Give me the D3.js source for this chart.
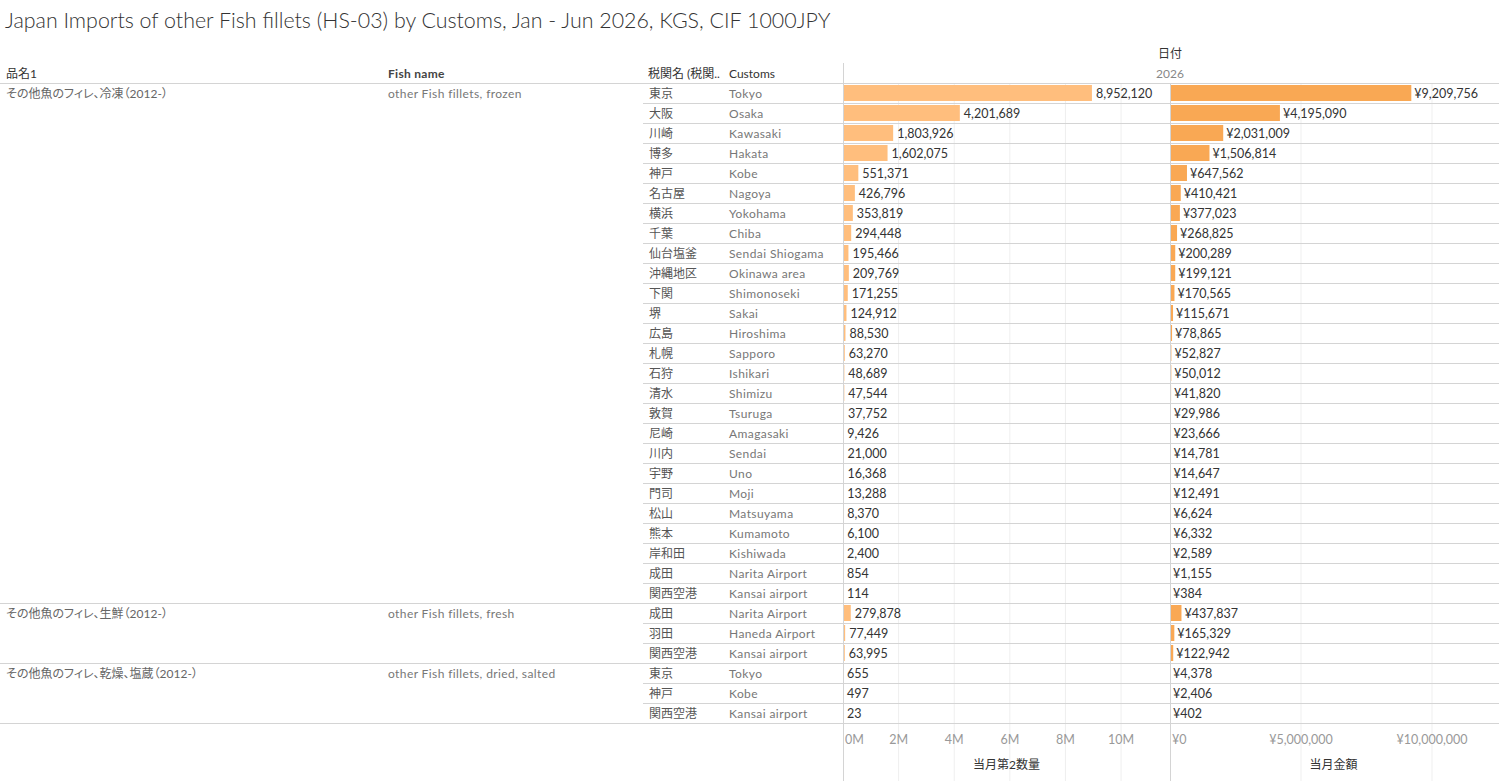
<!DOCTYPE html>
<html>
<head>
<meta charset="utf-8">
<script src="https://cdn.jsdelivr.net/npm/d3@7"></script>
<style>
  body { margin: 0; background: #fff; }
  svg { display: block; font-family: Lato, "Noto Sans CJK JP", sans-serif; }
  .palt { font-feature-settings: "palt"; }
</style>
</head>
<body>
<div id="chart"></div>
<script>
// Japan imports of other fish fillets by customs, Jan - Jun 2026
const groupJa = ["その他魚のフィレ、冷凍（2012-）", "その他魚のフィレ、生鮮（2012-）", "その他魚のフィレ、乾燥、塩蔵（2012-）"]
const groupEn = ["other Fish fillets, frozen", "other Fish fillets, fresh", "other Fish fillets, dried, salted"]
const groupSize = [26, 3, 3]

const customsJa = ["東京", "大阪", "川崎", "博多", "神戸", "名古屋", "横浜", "千葉", "仙台塩釜", "沖縄地区", "下関", "堺", "広島", "札幌", "石狩", "清水", "敦賀", "尼崎", "川内", "宇野", "門司", "松山", "熊本", "岸和田", "成田", "関西空港",
  "成田", "羽田", "関西空港",
  "東京", "神戸", "関西空港"]
const customsEn = ["Tokyo", "Osaka", "Kawasaki", "Hakata", "Kobe", "Nagoya", "Yokohama", "Chiba", "Sendai Shiogama", "Okinawa area", "Shimonoseki", "Sakai", "Hiroshima", "Sapporo", "Ishikari", "Shimizu", "Tsuruga", "Amagasaki", "Sendai", "Uno", "Moji", "Matsuyama", "Kumamoto", "Kishiwada", "Narita Airport", "Kansai airport",
  "Narita Airport", "Haneda Airport", "Kansai airport",
  "Tokyo", "Kobe", "Kansai airport"]
const quantity = [8952120, 4201689, 1803926, 1602075, 551371, 426796, 353819, 294448, 195466, 209769, 171255, 124912, 88530, 63270, 48689, 47544, 37752, 9426, 21000, 16368, 13288, 8370, 6100, 2400, 854, 114,
  279878, 77449, 63995,
  655, 497, 23]
const amount = [9209756, 4195090, 2031009, 1506814, 647562, 410421, 377023, 268825, 200289, 199121, 170565, 115671, 78865, 52827, 50012, 41820, 29986, 23666, 14781, 14647, 12491, 6624, 6332, 2589, 1155, 384,
  437837, 165329, 122942,
  4378, 2406, 402]

const qtyTicks = [0, 2e6, 4e6, 6e6, 8e6, 10e6]
const amtTicks = [0, 5e6, 10e6]

const W = 1499, H = 781
const svg = d3.select("#chart").append("svg").attr("width", W).attr("height", H)

const rowTop = 83, rowBottom = 723
const y = d3.scaleBand().domain(d3.range(customsJa.length)).range([rowTop, rowBottom]).paddingInner(0.2).paddingOuter(0.1)
const step = y.step()

const xQty = d3.scaleLinear().domain([0, 11.76e6]).range([843, 1170])
const xAmt = d3.scaleLinear().domain([0, 12.48e6]).range([1170, 1497])

const lineColor = "#d4d4d4"
const gridColor = "#efefef"

// title
svg.append("text")
  .attr("x", 5).attr("y", 28)
  .attr("font-size", 21.4).attr("font-weight", 300)
  .attr("fill", "#333")
  .text("Japan Imports of other Fish fillets (HS-03) by Customs, Jan - Jun 2026, KGS, CIF 1000JPY")

// column headers
const header = svg.append("g").attr("font-size", 12).attr("fill", "#333")
header.append("text").attr("x", 6).attr("y", 78).text("品名1")
header.append("text").attr("x", 388).attr("y", 78).attr("font-weight", 700).attr("fill", "#444").attr("letter-spacing", 0.3).text("Fish name")
header.append("text").attr("x", 648).attr("y", 78).text("税関名 (税関..")
header.append("text").attr("x", 729).attr("y", 78).text("Customs")
header.append("text").attr("x", 1170).attr("y", 58).attr("text-anchor", "middle").text("日付")
header.append("text").attr("x", 1170).attr("y", 78).attr("text-anchor", "middle").attr("fill", "#888").text("2026")

// gridlines
svg.append("g").selectAll("line").data(qtyTicks.slice(1)).join("line")
  .attr("x1", d => xQty(d)).attr("x2", d => xQty(d))
  .attr("y1", rowTop).attr("y2", H)
  .attr("stroke", gridColor)
svg.append("g").selectAll("line").data(amtTicks.slice(1)).join("line")
  .attr("x1", d => xAmt(d)).attr("x2", d => xAmt(d))
  .attr("y1", rowTop).attr("y2", H)
  .attr("stroke", gridColor)

// row separators
const groupEnds = d3.cumsum(groupSize)
const groupStarts = [0, ...groupEnds.slice(0, -1)]
const rowLines = d3.range(1, customsJa.length).filter(i => !groupEnds.includes(i))
svg.append("g").selectAll("line").data(rowLines).join("line")
  .attr("x1", 643).attr("x2", W)
  .attr("y1", i => rowTop + i * step + 0.5).attr("y2", i => rowTop + i * step + 0.5)
  .attr("stroke", lineColor)
svg.append("g").selectAll("line").data([0, ...groupEnds]).join("line")
  .attr("x1", 0).attr("x2", W)
  .attr("y1", i => rowTop + i * step + 0.5).attr("y2", i => rowTop + i * step + 0.5)
  .attr("stroke", lineColor)

// panel dividers
svg.append("line").attr("x1", 843.5).attr("x2", 843.5).attr("y1", 63).attr("y2", H).attr("stroke", lineColor)
svg.append("line").attr("x1", 1170.5).attr("x2", 1170.5).attr("y1", rowTop).attr("y2", H).attr("stroke", lineColor)

// group labels
const groups = svg.append("g").attr("font-size", 12).attr("fill", "#666")
groups.selectAll(".gja").data(groupJa).join("text")
  .attr("class", "palt")
  .attr("x", 6).attr("y", (d, i) => rowTop + groupStarts[i] * step + step / 2 + 5)
  .text(d => d)
groups.selectAll(".gen").data(groupEn).join("text")
  .attr("x", 388).attr("y", (d, i) => rowTop + groupStarts[i] * step + step / 2 + 5)
  .attr("fill", "#777").attr("letter-spacing", 0.4)
  .text(d => d)

// customs names
const cy = i => y(i) + y.bandwidth() / 2 + 5
svg.append("g").attr("font-size", 12).attr("fill", "#555")
  .selectAll("text").data(customsJa).join("text")
  .attr("x", 649).attr("y", (d, i) => cy(i)).text(d => d)
svg.append("g").attr("font-size", 12).attr("fill", "#777").attr("letter-spacing", 0.4)
  .selectAll("text").data(customsEn).join("text")
  .attr("x", 729).attr("y", (d, i) => cy(i)).text(d => d)

// bars
svg.append("g").selectAll("rect").data(quantity).join("rect")
  .attr("x", xQty(0) + 1).attr("y", (d, i) => y(i))
  .attr("width", d => Math.max(0, xQty(d) - xQty(0) - 1)).attr("height", y.bandwidth())
  .attr("fill", "#ffbe7d")
svg.append("g").selectAll("rect").data(amount).join("rect")
  .attr("x", xAmt(0) + 1).attr("y", (d, i) => y(i))
  .attr("width", d => Math.max(0, xAmt(d) - xAmt(0) - 1)).attr("height", y.bandwidth())
  .attr("fill", "#f9a854")

// value labels
const fmt = d3.format(",")
svg.append("g").attr("font-size", 12.5).attr("fill", "#333")
  .selectAll("text").data(quantity).join("text")
  .attr("x", d => xQty(d) + 4).attr("y", (d, i) => cy(i)).text(d => fmt(d))
svg.append("g").attr("font-size", 12.5).attr("fill", "#333")
  .selectAll("text").data(amount).join("text")
  .attr("x", d => xAmt(d) + 3).attr("y", (d, i) => cy(i)).text(d => "¥" + fmt(d))

// axes
const axisY = 744
svg.append("g").attr("font-size", 12.5).attr("fill", "#999")
  .selectAll("text").data(qtyTicks).join("text")
  .attr("x", d => d === 0 ? xQty(d) + 2 : xQty(d))
  .attr("y", axisY)
  .attr("text-anchor", d => d === 0 ? "start" : "middle")
  .text(d => d3.format("d")(d / 1e6) + "M")
svg.append("g").attr("font-size", 12.5).attr("fill", "#999")
  .selectAll("text").data(amtTicks).join("text")
  .attr("x", d => d === 0 ? xAmt(d) + 2 : xAmt(d))
  .attr("y", axisY)
  .attr("text-anchor", d => d === 0 ? "start" : "middle")
  .text(d => "¥" + fmt(d))

svg.append("text").attr("x", (xQty.range()[0] + xQty.range()[1]) / 2).attr("y", 769)
  .attr("text-anchor", "middle").attr("font-size", 12).attr("fill", "#333").text("当月第2数量")
svg.append("text").attr("x", (xAmt.range()[0] + xAmt.range()[1]) / 2).attr("y", 769)
  .attr("text-anchor", "middle").attr("font-size", 12).attr("fill", "#333").text("当月金額")
</script>
</body>
</html>
